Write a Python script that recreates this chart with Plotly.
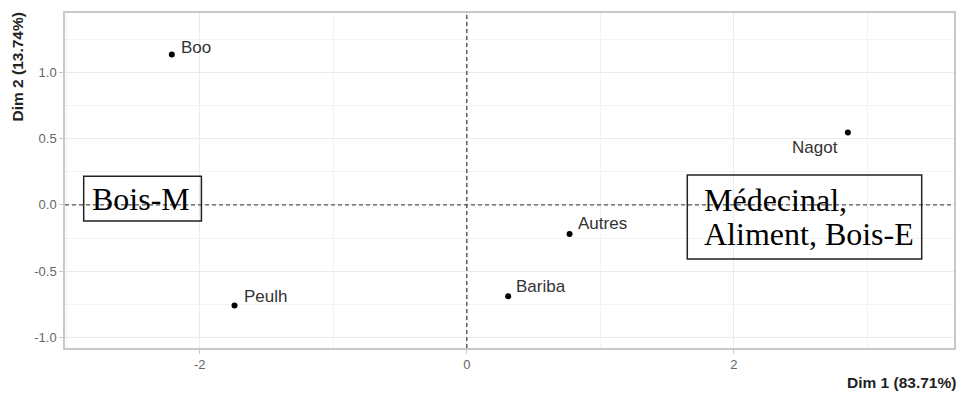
import plotly.graph_objects as go

# Individuals projected on the first two dimensions
groups = ["Boo", "Peulh", "Autres", "Bariba", "Nagot"]
dim1 = [-2.21, -1.74, 0.77, 0.31, 2.855]
dim2 = [1.135, -0.76, -0.22, -0.69, 0.547]

x_title = "Dim 1 (83.71%)"
y_title = "Dim 2 (13.74%)"
x_ticks = [-2, 0, 2]
y_ticks = [-1.0, -0.5, 0.0, 0.5, 1.0]
y_ticktext = ["-1.0", "-0.5", "0.0", "0.5", "1.0"]

# Usage groups written on the plot: text lines and framing box (data units)
left_lines = ["Bois-M"]
right_lines = ["Médecinal,", "Aliment, Bois-E"]
left_box = dict(x0=-2.870, x1=-1.988, y0=-0.122, y1=0.217)
right_box = dict(x0=1.652, x1=3.408, y0=-0.409, y1=0.225)

# Label placement relative to each point (pixels)
label_offsets = {
    "Boo": (7, 7, "left"),
    "Peulh": (7, 9, "left"),
    "Autres": (6, 11, "left"),
    "Bariba": (6, 10, "left"),
    "Nagot": (-8, -15, "right"),
}

grid_major = "#EBEBEB"
grid_minor = "#F3F3F3"

fig = go.Figure()
fig.add_trace(go.Scatter(
    x=dim1, y=dim2, mode="markers",
    marker=dict(color="black", size=6),
    hoverinfo="skip", showlegend=False,
))

for name, xv, yv in zip(groups, dim1, dim2):
    dx, dy, anchor = label_offsets[name]
    fig.add_annotation(
        x=xv, y=yv, text=name, showarrow=False,
        xanchor=anchor, yanchor="middle", xshift=dx, yshift=dy,
        font=dict(family="Liberation Sans, Arial", size=17, color="#333333"),
    )

# Dashed reference lines through the origin
dash_style = dict(color="#555555", width=1.4, dash="4px,3px")
fig.add_shape(type="line", xref="x", yref="paper", x0=0, x1=0, y0=0, y1=1,
              line=dash_style, layer="above")
fig.add_shape(type="line", xref="paper", yref="y", x0=0, x1=1, y0=0, y1=0,
              line=dash_style, layer="above")

# Framed group captions (transparent boxes, serif text)
box_font = dict(family="Liberation Serif, Times New Roman", size=32, color="black")
line_step = 0.257  # vertical distance between caption lines, data units
for box, lines, x_text in [(left_box, left_lines, -2.825), (right_box, right_lines, 1.764)]:
    fig.add_shape(type="rect", xref="x", yref="y", **box,
                  line=dict(color="#222222", width=1.5), fillcolor="rgba(0,0,0,0)",
                  layer="above")
    y_mid = (box["y0"] + box["y1"]) / 2
    y_first = y_mid + line_step * (len(lines) - 1) / 2
    for i, txt in enumerate(lines):
        fig.add_annotation(
            x=x_text, y=y_first - i * line_step, text=txt, showarrow=False,
            xanchor="left", yanchor="middle", font=box_font,
        )

# Axis titles (bold, placed at the ends of the axes)
title_font = dict(family="Liberation Sans, Arial", size=15.5, color="#222222")
fig.add_annotation(
    xref="paper", yref="paper", x=1, y=0, yshift=-34, xshift=4,
    xanchor="right", yanchor="middle", text="<b>" + x_title + "</b>",
    showarrow=False, font=title_font,
)
fig.add_annotation(
    xref="paper", yref="paper", x=0, y=1, xshift=-48, yshift=2,
    xanchor="center", yanchor="top", textangle=-90,
    text="<b>" + y_title + "</b>", showarrow=False, font=title_font,
)

tick_font = dict(family="Liberation Sans, Arial", size=13, color="#666666")
fig.update_xaxes(
    range=[-3.01, 3.65], tickvals=x_ticks, ticktext=[str(v) for v in x_ticks],
    showgrid=True, gridcolor=grid_major, gridwidth=1.2,
    minor=dict(tickvals=[-3, -1, 1, 3], showgrid=True, gridcolor=grid_minor, gridwidth=1),
    zeroline=False, showline=True, linecolor="#C8C8C8", linewidth=1.5, mirror=True,
    ticks="outside", ticklen=4, tickcolor="#C8C8C8", tickfont=tick_font,
)
fig.update_yaxes(
    range=[-1.08, 1.448], tickvals=y_ticks, ticktext=y_ticktext,
    showgrid=True, gridcolor=grid_major, gridwidth=1.2,
    minor=dict(tickvals=[-0.75, -0.25, 0.25, 0.75, 1.25], showgrid=True,
               gridcolor=grid_minor, gridwidth=1),
    zeroline=False, showline=True, linecolor="#C8C8C8", linewidth=1.5, mirror=True,
    ticks="outside", ticklen=4, tickcolor="#C8C8C8", tickfont=tick_font,
)

fig.update_layout(
    width=962, height=397,
    margin=dict(l=65, r=6, t=13, b=49),
    plot_bgcolor="white", paper_bgcolor="white",
    showlegend=False,
)

fig.write_html("out.html")
